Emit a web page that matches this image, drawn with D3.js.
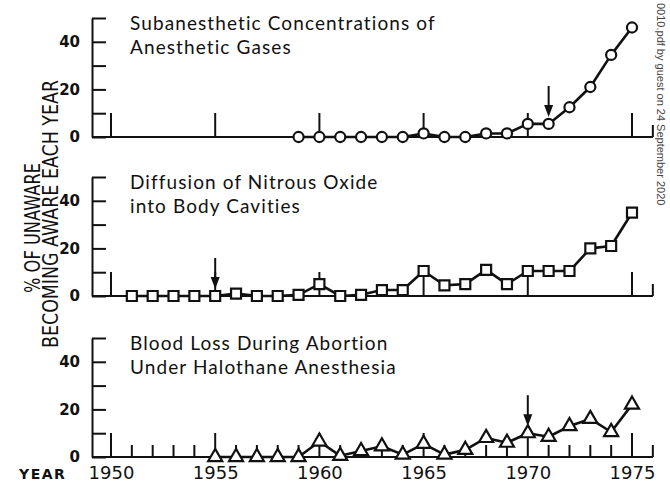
<!DOCTYPE html>
<html lang="en">
<head>
<meta charset="utf-8">
<title>Awareness of anesthetic hazards</title>
<script src="https://cdn.jsdelivr.net/npm/d3@7"></script>
<style>
  body { margin: 0; background: #fff; }
  text { font-family: Lato, "DejaVu Sans", sans-serif; fill: #111; }
</style>
</head>
<body>
<script>

// values (% of unaware becoming aware each year)
var gasYears = d3.range(1959, 1976);
var gasValues = [0, 0, 0, 0, 0, 0, 1.5, 0, 0, 1.5, 1.5, 5.5, 5.5, 12.5, 21, 34.5, 46];

var nitrousYears = d3.range(1951, 1976);
var nitrousValues = [0, 0, 0, 0, 0, 1, 0, 0, 0.5, 5, 0, 0.5, 2.5, 2.5, 10.5, 4.5, 5, 11, 5, 10.5, 10.5, 10.5, 20, 21, 35];

var bloodYears = d3.range(1955, 1976);
var bloodValues = [0, 0, 0, 0, 0, 6.5, 0.5, 2.5, 4.5, 1, 5.5, 1, 3, 8, 6, 10, 8.5, 13, 16, 10.5, 22];

var titles = [
  ["Subanesthetic Concentrations of", "Anesthetic Gases"],
  ["Diffusion of Nitrous Oxide", "into Body Cavities"],
  ["Blood Loss During Abortion", "Under Halothane Anesthesia"]
];
var arrowYears = [1971, 1955, 1970];
var majorYears = [1950, 1955, 1960, 1965, 1970, 1975];
var yTicks = [0, 10, 20, 30, 40, 50];
var yLabels = [0, 20, 40];

var width = 670, height = 491;

var svg = d3.select("body").append("svg")
  .attr("width", width)
  .attr("height", height);

var x = d3.scaleLinear().domain([1950, 1975]).range([111, 632]);
var axisLeftX = 92;
var axisEndYear = 1976;

var panels = [
  {years: gasYears, values: gasValues, base: 137, symbol: d3.symbolCircle, size: 80},
  {years: nitrousYears, values: nitrousValues, base: 296, symbol: d3.symbolSquare, size: 100},
  {years: bloodYears, values: bloodValues, base: 457, symbol: d3.symbolTriangle, size: 85}
];

panels.forEach(function(p, i) {
  var y = d3.scaleLinear().domain([0, 50]).range([p.base, p.base - 119]);
  var g = svg.append("g");

  // y axis: bracket with inward ticks
  var yAxis = d3.axisLeft(y)
    .tickValues(yTicks)
    .tickSizeInner(-14)
    .tickSizeOuter(0)
    .tickPadding(12)
    .tickFormat(function(d) { return yLabels.indexOf(d) >= 0 ? d : ""; });

  var ya = g.append("g")
    .attr("transform", "translate(" + axisLeftX + ",0)")
    .call(yAxis);
  ya.selectAll("path, line").attr("stroke", "#111").attr("stroke-width", 2);
  ya.selectAll("text")
    .style("font-family", "'DejaVu Sans', sans-serif")
    .style("font-weight", "bold")
    .style("font-size", "15px")
    .attr("fill", "#111");

  // x baseline with upward ticks
  var xb = g.append("g").attr("transform", "translate(0," + p.base + ")");
  xb.append("line")
    .attr("x1", axisLeftX).attr("x2", x(axisEndYear))
    .attr("y1", 0).attr("y2", 0)
    .attr("stroke", "#111").attr("stroke-width", 2);

  var minor = [axisEndYear];
  if (i == 2) {
    minor = d3.range(1951, 1977).filter(function(d) { return d % 5 != 0; });
  }
  xb.selectAll(".major").data(majorYears).enter().append("line")
    .attr("class", "major")
    .attr("x1", function(d) { return x(d); })
    .attr("x2", function(d) { return x(d); })
    .attr("y1", 0).attr("y2", -24)
    .attr("stroke", "#111").attr("stroke-width", 2);
  xb.selectAll(".minor").data(minor).enter().append("line")
    .attr("class", "minor")
    .attr("x1", function(d) { return x(d); })
    .attr("x2", function(d) { return x(d); })
    .attr("y1", 0).attr("y2", -12)
    .attr("stroke", "#111").attr("stroke-width", 2);

  if (i == 2) {
    var xAxis = d3.axisBottom(x)
      .tickValues(majorYears)
      .tickSize(0)
      .tickPadding(9)
      .tickFormat(d3.format("d"));
    var xa = g.append("g")
      .attr("transform", "translate(0," + p.base + ")")
      .call(xAxis);
    xa.select(".domain").remove();
    xa.selectAll("text")
      .style("font-family", "'DejaVu Sans', sans-serif")
      .style("font-size", "18px")
      .attr("fill", "#111");
  }

  // data line and markers
  var pts = p.years.map(function(yr, k) { return [yr, p.values[k]]; });
  var line = d3.line()
    .x(function(d) { return x(d[0]); })
    .y(function(d) { return y(d[1]); });

  g.append("path")
    .datum(pts)
    .attr("d", line)
    .attr("fill", "none")
    .attr("stroke", "#111")
    .attr("stroke-width", 2.6)
    .attr("stroke-linejoin", "round");

  g.selectAll(".mark").data(pts).enter().append("path")
    .attr("class", "mark")
    .attr("transform", function(d) { return "translate(" + x(d[0]) + "," + y(d[1]) + ")"; })
    .attr("d", d3.symbol().type(p.symbol).size(p.size))
    .attr("fill", "#fff")
    .attr("stroke", "#111")
    .attr("stroke-width", 2.2);

  // arrow pointing at the marked year
  var ak = p.years.indexOf(arrowYears[i]);
  var ax = x(arrowYears[i]);
  var tip = y(p.values[ak]) - 7;
  g.append("line")
    .attr("x1", ax).attr("x2", ax)
    .attr("y1", tip - 31).attr("y2", tip - 8)
    .attr("stroke", "#111").attr("stroke-width", 2);
  g.append("path")
    .attr("d", "M" + (ax - 4.5) + "," + (tip - 12) + "L" + (ax + 4.5) + "," + (tip - 12) + "L" + ax + "," + tip + "Z")
    .attr("fill", "#111");

  // panel title
  var t = g.append("text")
    .attr("x", 130)
    .attr("y", p.base - 107)
    .style("font-size", "19px")
    .style("letter-spacing", "1.1px");
  t.append("tspan").attr("x", 130).text(titles[i][0]);
  t.append("tspan").attr("x", 130).attr("dy", 24).text(titles[i][1]);
});

// y axis title, two rotated lines
var yTitle = [
  {text: "% OF UNAWARE", x: 40, y: 228, len: 130},
  {text: "BECOMING AWARE EACH YEAR", x: 58, y: 214, len: 268}
];
svg.selectAll(".ytitle").data(yTitle).enter().append("text")
  .attr("class", "ytitle")
  .attr("transform", function(d) { return "translate(" + d.x + "," + d.y + ") rotate(-90)"; })
  .attr("text-anchor", "middle")
  .attr("textLength", function(d) { return d.len; })
  .attr("lengthAdjust", "spacingAndGlyphs")
  .style("font-family", "'DejaVu Sans', sans-serif")
  .style("font-size", "21px")
  .text(function(d) { return d.text; });

svg.append("text")
  .attr("x", 19).attr("y", 479)
  .style("font-family", "'DejaVu Sans', sans-serif")
  .style("font-weight", "bold")
  .style("font-size", "14px")
  .style("letter-spacing", "1.5px")
  .text("YEAR");

// scan margin note
svg.append("text")
  .attr("transform", "translate(657,3) rotate(90)")
  .style("font-family", "'Liberation Sans', sans-serif")
  .style("font-size", "11px")
  .style("fill", "#444")
  .text("0010.pdf by guest on 24 September 2020");

</script>
</body>
</html>
